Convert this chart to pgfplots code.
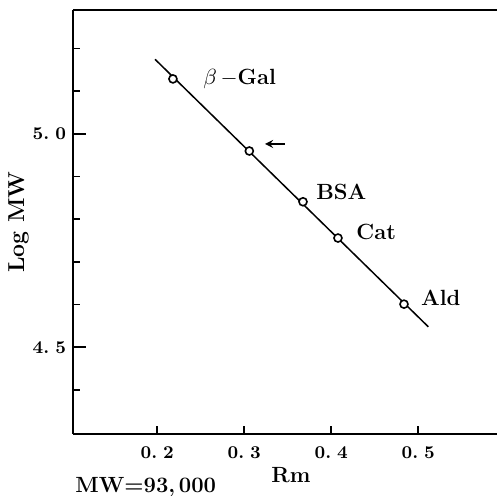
\documentclass[border=0pt]{standalone}
\usepackage{pgfplots}
\pgfplotsset{compat=1.18}
\begin{document}
\begin{tikzpicture}
\begin{axis}[
  scale only axis,
  width=212pt, height=211.8pt,
  xmin=0.1031, xmax=0.5905, ymin=4.297, ymax=5.29,
  axis x line=box, axis y line=left,
  axis line style={-, line width=1pt},
  tick align=inside,
  xtick=\empty,
  extra x ticks={0.2,0.3,0.4,0.5},
  extra x tick labels={{0.\,\,2},{0.\,\,3},{0.\,\,4},{0.\,\,5}},
  extra x tick style={major tick length=4pt, xticklabel style={yshift=-3pt}},
  xtick pos=lower, ytick pos=lower,
  ytick={4.5,5.0},
  yticklabels={{4.\,\,5},{5.\,\,0}},
  minor ytick={4.4,4.6,4.7,4.8,4.9,5.1,5.2},
  major tick length=6.5pt, minor tick length=3.5pt,
  tick style={line width=0.8pt, black},
  ticklabel style={font=\fontsize{9}{10}\selectfont\bfseries\boldmath},
  clip=false,
]
\addplot[black, line width=0.75pt] coordinates {(0.1974,5.175) (0.5115,4.548)};
\addplot[only marks, mark=*, mark size=2pt, mark options={fill=white, draw=black, line width=0.8pt}]
  coordinates {(0.218,5.129) (0.3058,4.960) (0.3675,4.841) (0.4077,4.756) (0.4836,4.601)};
\draw[-stealth, line width=0.8pt] (axis cs:0.3468,4.9766) -- (axis cs:0.3238,4.9766);
\node[anchor=base west, inner sep=0, font=\fontsize{11}{13}\selectfont\bfseries] at (axis cs:0.2525,5.1149) {$\beta$\,$-$Gal};
\node[anchor=base west, inner sep=0, font=\fontsize{11}{13}\selectfont\bfseries] at (axis cs:0.3824,4.8453) {BSA};
\node[anchor=base west, inner sep=0, font=\fontsize{11}{13}\selectfont\bfseries] at (axis cs:0.4284,4.7515) {Cat};
\node[anchor=base west, inner sep=0, font=\fontsize{11}{13}\selectfont\bfseries] at (axis cs:0.5028,4.5975) {Ald};
\node[rotate=90, inner sep=0, font=\fontsize{11.5}{13}\selectfont\bfseries] at (axis cs:0.0405,4.7937) {Log MW};
\node[inner sep=0, font=\fontsize{11}{13}\selectfont\bfseries] at (axis cs:0.3537,4.2007) {Rm};
\node[inner sep=0, font=\fontsize{11}{13}\selectfont\bfseries] at (axis cs:0.1867,4.1725) {MW{=}93,\,000};
\coordinate (bl) at (axis cs:0.0192,4.1514);
\coordinate (tr) at (axis cs:0.5905,5.314);
\end{axis}
\pgfresetboundingbox
\path[use as bounding box] (bl) rectangle (tr);
\end{tikzpicture}
\end{document}
